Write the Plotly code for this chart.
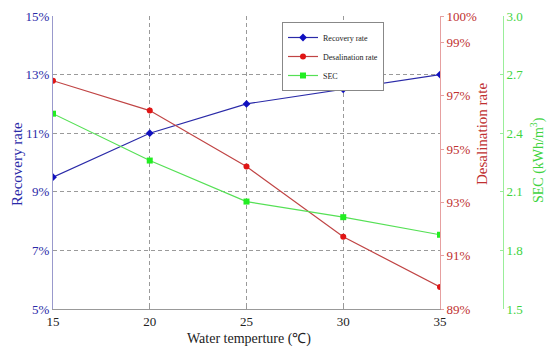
import plotly.graph_objects as go

temps = [15, 20, 25, 30, 35]
recovery = [9.5, 11.0, 12.0, 12.5, 13.0]
desal = [97.57, 96.45, 94.35, 91.71, 89.83]
sec = [2.50, 2.26, 2.05, 1.97, 1.88]

x_ticks = [15, 20, 25, 30, 35]
left_ticks = [5, 7, 9, 11, 13, 15]
right_ticks = [89, 91, 93, 95, 97, 99, 100]
sec_ticks = [1.5, 1.8, 2.1, 2.4, 2.7, 3.0]

FONT = "Liberation Serif"
BLUE = "#2a2aa8"
RED = "#c03030"
GREEN = "#3fd43f"

W, H = 550, 355
ML, MR, MT, MB = 53, 47, 16, 46
PW = W - ML - MR
PH = H - MT - MB


def px(x):
    return (x - ML) / PW


def py(y):
    return (H - MB - y) / PH


fig = go.Figure()
fig.add_trace(go.Scatter(x=temps, y=recovery, name="Recovery rate", mode="lines+markers",
                         line=dict(color=BLUE, width=1.2),
                         marker=dict(symbol="diamond", size=6, color="#1010c0"),
                         yaxis="y"))
fig.add_trace(go.Scatter(x=temps, y=desal, name="Desalination rate", mode="lines+markers",
                         line=dict(color="#c04444", width=1.2),
                         marker=dict(symbol="circle", size=6, color="#e01515"),
                         yaxis="y2"))
fig.add_trace(go.Scatter(x=temps, y=sec, name="SEC", mode="lines+markers",
                         line=dict(color="#55e055", width=1.2),
                         marker=dict(symbol="square", size=6, color="#22ee22"),
                         yaxis="y3"))

fig.update_layout(
    width=W, height=H,
    margin=dict(l=ML, r=MR, t=MT, b=MB, autoexpand=False),
    paper_bgcolor="white", plot_bgcolor="white",
    font=dict(family=FONT, size=13),
    showlegend=True,
    legend=dict(x=px(282), y=py(22), xanchor="left", yanchor="top",
                bgcolor="white", bordercolor="#888", borderwidth=1,
                font=dict(family=FONT, size=8, color="#222"),
                tracegroupgap=0, itemwidth=30),
    xaxis=dict(domain=[0, px(440)], range=[15, 35], tickvals=x_ticks,
               ticktext=[str(v) for v in x_ticks], automargin=False,
               showgrid=True, gridcolor="#9a9a9a", griddash="4px,3px", gridwidth=1,
               showline=True, linecolor="#999", linewidth=1,
               ticks="inside", ticklen=4, tickcolor="#999",
               tickfont=dict(family=FONT, size=13, color="#222"),
               zeroline=False),
    yaxis=dict(range=[5, 15], tickvals=left_ticks, automargin=False,
               ticktext=[f"{v}%" for v in left_ticks],
               showgrid=True, gridcolor="#9a9a9a", griddash="4px,3px", gridwidth=1,
               showline=True, linecolor="#9999cc", linewidth=1,
               ticks="", tickfont=dict(family=FONT, size=13, color=BLUE),
               zeroline=False),
    yaxis2=dict(range=[89, 100], tickvals=right_ticks, automargin=False,
                ticktext=[f"{v}%" for v in right_ticks],
                overlaying="y", side="right", anchor="x",
                showgrid=False, showline=True, linecolor="#e6a0a0", linewidth=1,
                ticks="outside", ticklen=3, tickcolor="#e6a0a0",
                tickfont=dict(family=FONT, size=13, color=RED),
                zeroline=False),
    yaxis3=dict(range=[1.5, 3.0], tickvals=sec_ticks, automargin=False,
                ticktext=[f"{v:.1f}" for v in sec_ticks],
                overlaying="y", side="right", anchor="free", position=1.0,
                showgrid=False, showline=True, linecolor="#99ee99", linewidth=1,
                ticks="inside", ticklen=3, tickcolor="#99ee99",
                tickfont=dict(family=FONT, size=13, color=GREEN),
                zeroline=False),
    annotations=[
        dict(text="Water temperture (℃)", xref="paper", yref="paper",
             x=px(249), y=py(339), xanchor="center", yanchor="middle", showarrow=False,
             font=dict(family=FONT, size=14, color="#222")),
        dict(text="Recovery rate", xref="paper", yref="paper",
             x=px(17), y=py(164), xanchor="center", yanchor="middle", textangle=-90,
             showarrow=False, font=dict(family=FONT, size=15, color=BLUE)),
        dict(text="Desalination rate", xref="paper", yref="paper",
             x=px(482), y=py(134), xanchor="center", yanchor="middle", textangle=-90,
             showarrow=False, font=dict(family=FONT, size=15, color=RED)),
        dict(text="SEC (kWh/m<sup>3</sup>)", xref="paper", yref="paper",
             x=px(537), y=py(160), xanchor="center", yanchor="middle", textangle=-90,
             showarrow=False, font=dict(family=FONT, size=14, color=GREEN)),
    ],
)

fig.write_html("out.html", config={"displayModeBar": False},
               post_script="document.body.style.margin='0';document.body.style.overflow='hidden';")
